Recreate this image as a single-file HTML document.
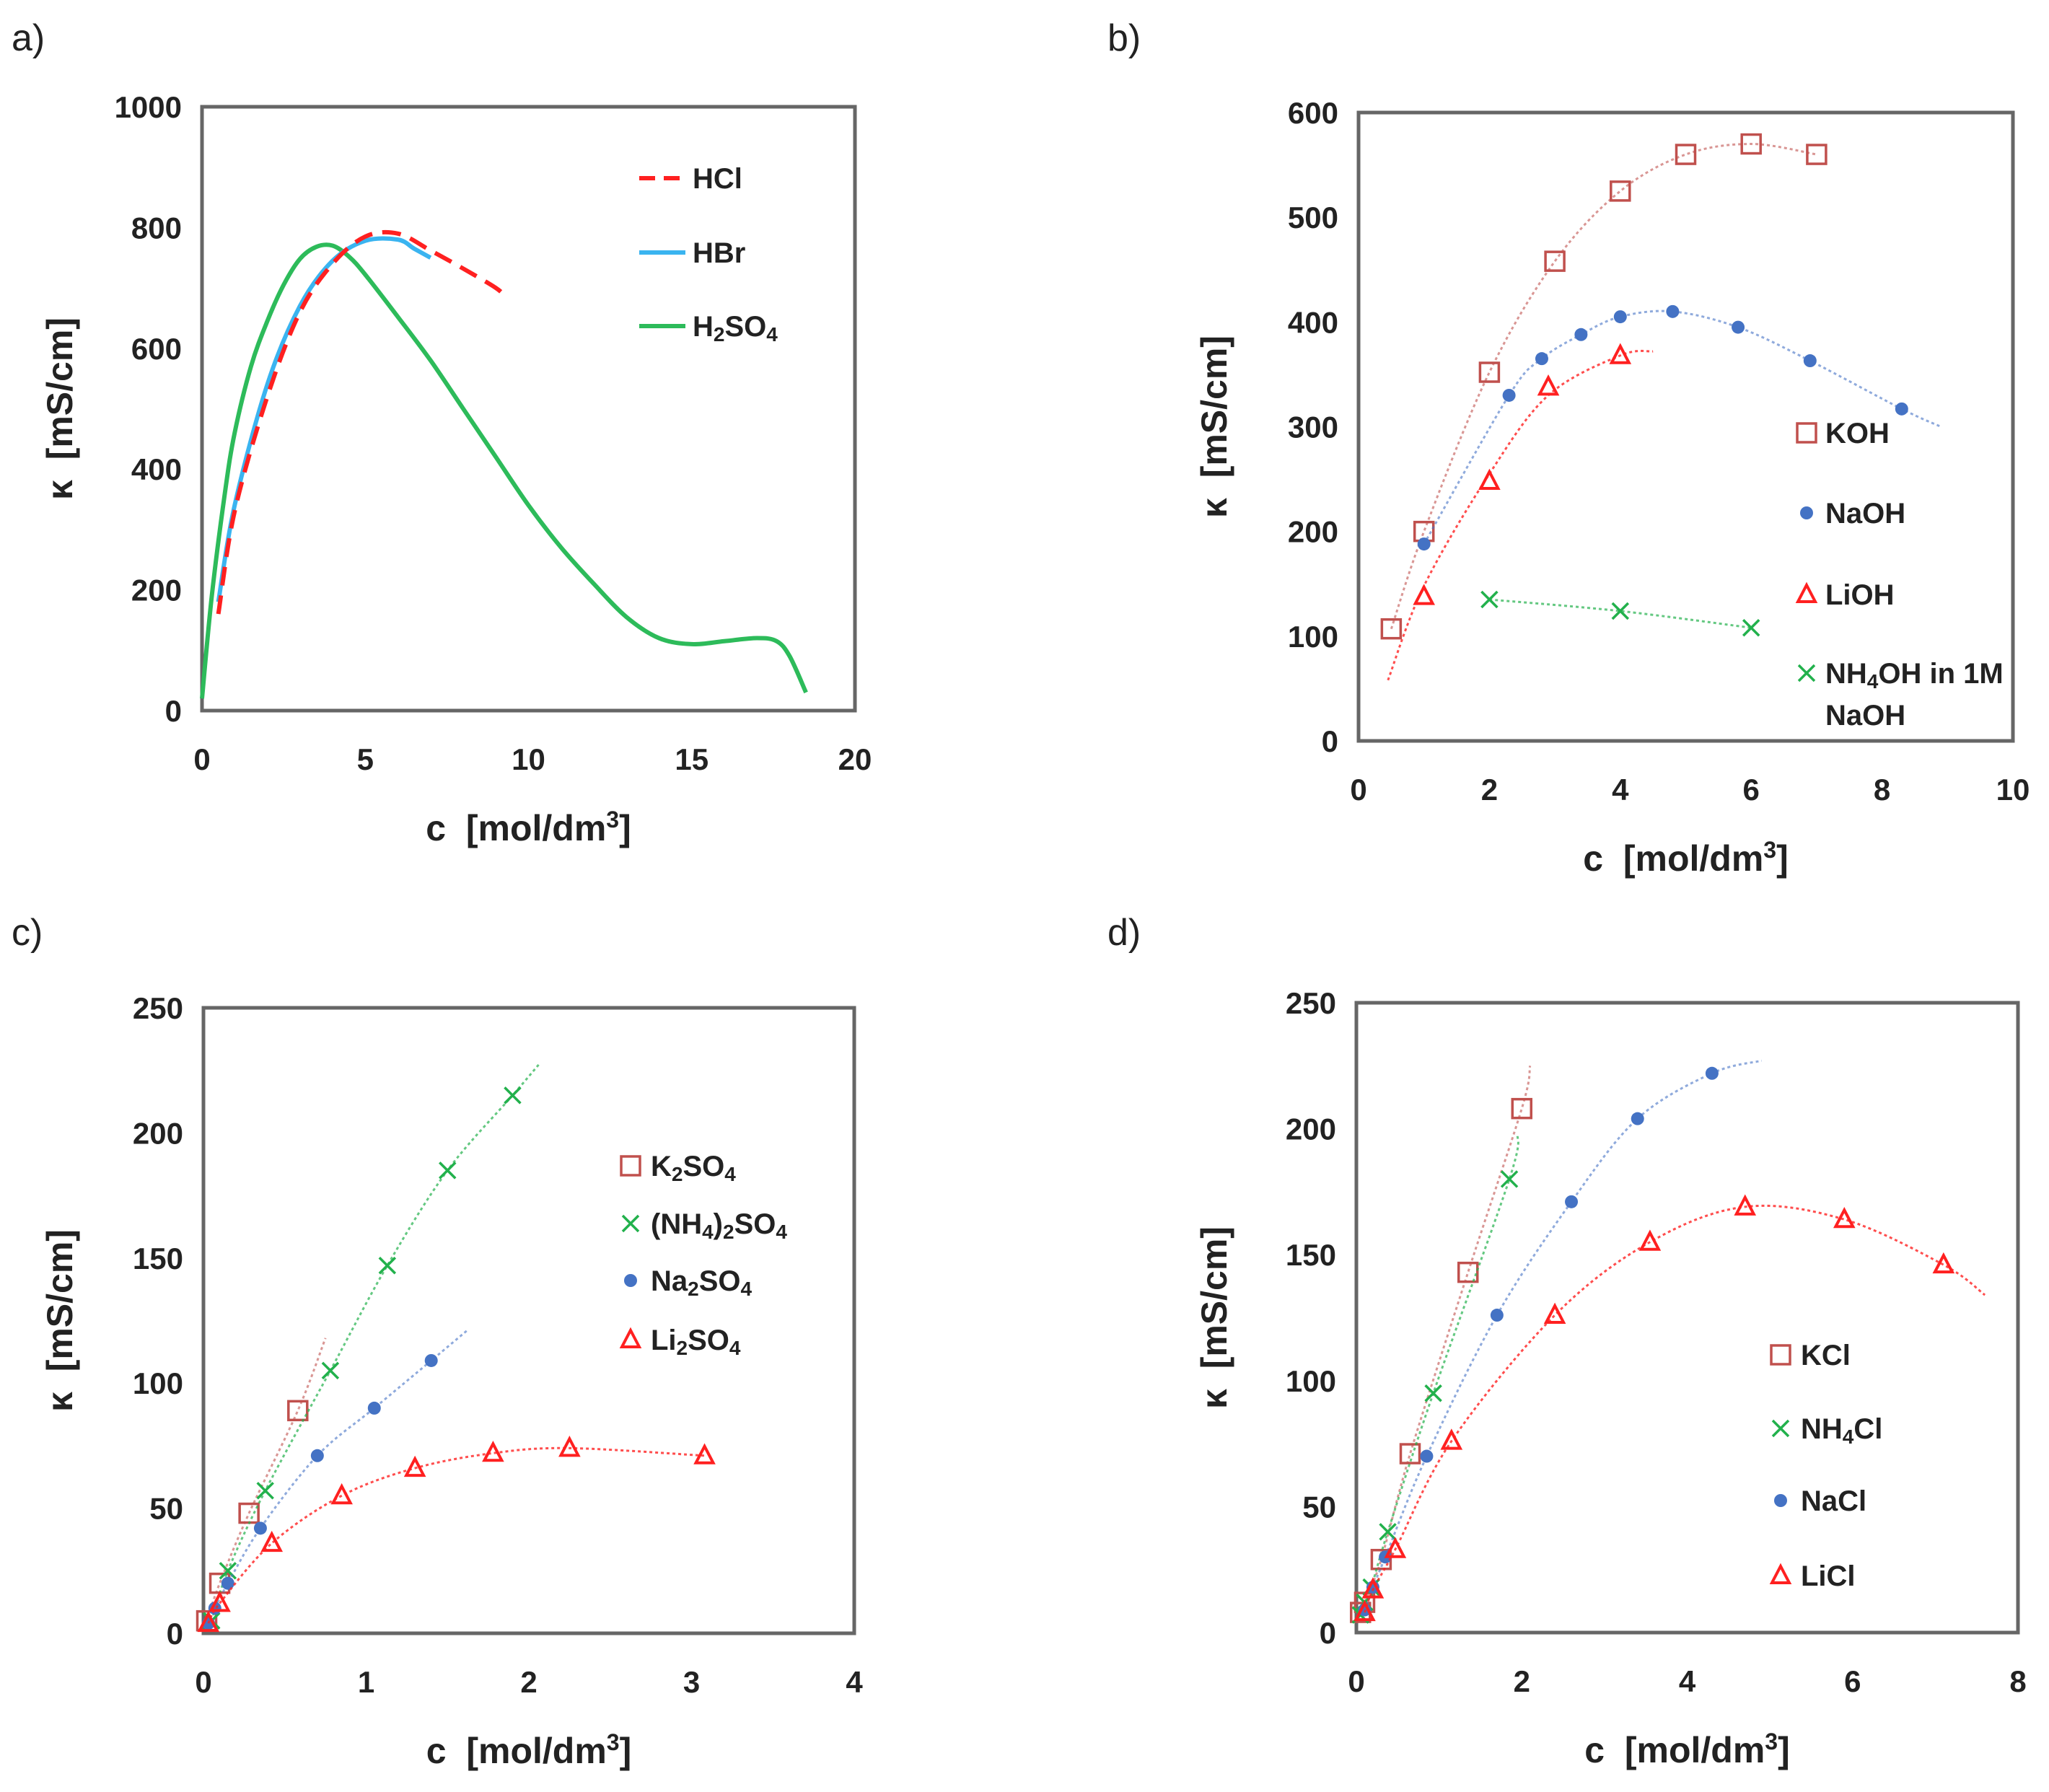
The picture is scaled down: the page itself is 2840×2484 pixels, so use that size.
<!DOCTYPE html>
<html><head><meta charset="utf-8">
<style>
html,body{margin:0;padding:0;background:#fff;}
svg{display:block;}
text{font-family:"Liberation Sans",sans-serif;}
</style></head>
<body>
<svg id="chart" width="2840" height="2484" viewBox="0 0 2840 2484" xmlns="http://www.w3.org/2000/svg"></svg>
<script>
// ---- Panel a data ----
const aHClX = [0.5,1,2,3,4,5,6,7,8,9,9.3];
const aHClY = [160,330,520,660,740,785,790,762,732,700,685];
const aHBrX = [0.5,1,2,3,4,5,6,6.5,7];
const aHBrY = [180,340,540,670,745,778,780,765,750];
const aH2SO4X = [0,0.3,0.7,1,1.5,2,2.5,3,3.5,4,4.5,5,6,7,8,9,10,11,12,13,14,15,16,17,17.6,18,18.5];
const aH2SO4Y = [20,190,360,460,570,645,705,748,768,770,752,722,652,580,500,420,340,270,210,155,120,110,115,120,115,90,30];
// ---- Panel b data ----
const bKOHX = [0.5,1,2,3,4,5,6,7];
const bKOHY = [107,200,352,458,525,560,570,560];
const bNaOHX = [1,2.3,2.8,3.4,4,4.8,5.8,6.9,8.3];
const bNaOHY = [188,330,365,388,405,410,395,363,317];
const bNaOHFitX = [1,2.3,2.8,3.4,4,4.8,5.8,6.9,8.3,8.9];
const bNaOHFitY = [188,330,365,388,405,410,395,363,317,300];
const bLiOHX = [1,2,2.9,4];
const bLiOHY = [138,248,338,368];
const bLiOHFitX = [0.45,1,2,2.9,4,4.5];
const bLiOHFitY = [58,148,255,330,368,372];
const bNH4X = [2,4,6];
const bNH4Y = [135,124,108];
// ---- Panel c data ----
const cKX = [0.02,0.1,0.28,0.58];
const cKY = [5,20,48,89];
const cKFitX = [0.02,0.1,0.28,0.58,0.75];
const cKFitY = [5,20,48,89,118];
const cNH4X = [0.05,0.15,0.38,0.78,1.13,1.5,1.9];
const cNH4Y = [5,25,57,105,147,185,215];
const cNH4FitX = [0.05,0.15,0.38,0.78,1.13,1.5,1.9,2.07];
const cNH4FitY = [5,25,57,105,147,185,215,228];
const cNaX = [0.03,0.07,0.15,0.35,0.7,1.05,1.4];
const cNaY = [4,10,20,42,71,90,109];
const cNaFitX = [0.03,0.07,0.15,0.35,0.7,1.05,1.4,1.62];
const cNaFitY = [4,10,20,42,71,90,109,121];
const cLiX = [0.03,0.1,0.42,0.85,1.3,1.78,2.25,3.08];
const cLiY = [4,12,36,55,66,72,74,71];
// ---- Panel d data ----
const dKX = [0.05,0.1,0.3,0.65,1.35,2];
const dKY = [8,12,29,71,143,208];
const dKFitX = [0.05,0.1,0.3,0.65,1.35,2,2.1];
const dKFitY = [8,12,29,71,143,208,225];
const dNH4X = [0.05,0.1,0.18,0.38,0.93,1.85];
const dNH4Y = [7,12,18,40,95,180];
const dNH4FitX = [0.05,0.1,0.18,0.38,0.93,1.85,1.95];
const dNH4FitY = [7,12,18,40,95,180,198];
const dNaX = [0.1,0.2,0.35,0.85,1.7,2.6,3.4,4.3];
const dNaY = [9,18,30,70,126,171,204,222];
const dNaFitX = [0.1,0.2,0.35,0.85,1.7,2.6,3.4,4.3,4.9];
const dNaFitY = [9,18,30,70,126,171,204,222,227];
const dLiX = [0.1,0.2,0.47,1.15,2.4,3.55,4.7,5.9,7.1];
const dLiY = [8,17,33,76,126,155,169,164,146];
const dLiFitX = [0.1,0.2,0.47,1.15,2.4,3.55,4.7,5.9,7.1,7.6];
const dLiFitY = [8,17,33,76,126,155,169,164,146,134];
// ---- ticks ----
const aXTicks = [0,5,10,15,20], aYTicks = [0,200,400,600,800,1000];
const bXTicks = [0,2,4,6,8,10], bYTicks = [0,100,200,300,400,500,600];
const cXTicks = [0,1,2,3,4], cYTicks = [0,50,100,150,200,250];
const dXTicks = [0,2,4,6,8], dYTicks = [0,50,100,150,200,250];

const NS = "http://www.w3.org/2000/svg";
const svg = document.getElementById('chart');
function mk(tag, attrs, parent){
  const e = document.createElementNS(NS, tag);
  for (const k in attrs) e.setAttribute(k, attrs[k]);
  (parent||svg).appendChild(e);
  return e;
}
const C_K = "#c0504d", C_NA = "#4472c4", C_LI = "#ff2020", C_NH = "#22b14c";

function smoothPath(pts){
  let d = "M" + pts[0][0] + "," + pts[0][1];
  for (let i=0;i<pts.length-1;i++){
    const p0 = pts[i-1]||pts[i], p1 = pts[i], p2 = pts[i+1], p3 = pts[i+2]||p2;
    const c1x = p1[0]+(p2[0]-p0[0])/6, c1y = p1[1]+(p2[1]-p0[1])/6;
    const c2x = p2[0]-(p3[0]-p1[0])/6, c2y = p2[1]-(p3[1]-p1[1])/6;
    d += " C"+c1x+","+c1y+" "+c2x+","+c2y+" "+p2[0]+","+p2[1];
  }
  return d;
}
function marker(g, type, x, y, color){
  let m;
  if (type==='sq') m = mk('rect',{x:x-13,y:y-13,width:26,height:26,fill:'none',stroke:color,'stroke-width':3.5},g);
  else if (type==='ci') m = mk('circle',{cx:x,cy:y,r:9,fill:color},g);
  else if (type==='tr') m = mk('path',{d:`M${x},${y-13} L${x+12},${y+10} L${x-12},${y+10} Z`,fill:'none',stroke:color,'stroke-width':4},g);
  else m = mk('path',{d:`M${x-11},${y-11} L${x+11},${y+11} M${x+11},${y-11} L${x-11},${y+11}`,fill:'none',stroke:color,'stroke-width':3.5},g);
  return m;
}
function panel(p){
  const g = mk('g',{});
  
  
  const sx = v => p.L + (v - p.x0)/(p.x1-p.x0)*(p.R-p.L);
  const sy = v => p.B - (v - p.y0)/(p.y1-p.y0)*(p.B-p.T);
  const lab = mk('text',{x:p.lx,y:p.ly,'font-size':52,'font-family':'"Liberation Serif",serif',fill:'#222'},g);
  lab.textContent = p.id + ")";
  
  
  p.yt.forEach(v=>{
    const t = mk('text',{x:p.L-28,y:sy(v)+15,'text-anchor':'end','font-size':42,'font-weight':'bold',fill:'#222'},g);
    t.textContent = v;
    
    
  });
  p.xt.forEach(v=>{
    const t = mk('text',{x:sx(v),y:p.B+82,'text-anchor':'middle','font-size':42,'font-weight':'bold',fill:'#222'},g);
    t.textContent = v;
    
    
  });
  const xt = mk('text',{x:(p.L+p.R)/2,y:p.B+180,'text-anchor':'middle','font-size':50,'font-weight':'bold',fill:'#222'},g);
  xt.innerHTML = 'c&#160;&#160;[mol/dm<tspan baseline-shift="18" font-size="32">3</tspan>]';
  
  
  const cy = (p.T+p.B)/2;
  const yt = mk('text',{x:p.ytx,y:cy,'text-anchor':'middle','font-size':50,'font-weight':'bold',fill:'#222',transform:`rotate(-90 ${p.ytx} ${cy})`},g);
  yt.textContent = 'κ\u00a0\u00a0[mS/cm]';
  
  
  const box = mk('rect',{x:p.L,y:p.T,width:p.R-p.L,height:p.B-p.T,fill:'none',stroke:'#666','stroke-width':5},g);
  
  
  p.series.forEach(s=>{
    if (s.fx){
      const pts = s.fx.map((x,i)=>[sx(x),sy(s.fy[i])]);
      const path = mk('path',{d:smoothPath(pts),fill:'none',stroke:s.color,'stroke-width':s.lw||3,'stroke-dasharray':s.dash||'none','stroke-linecap':'butt',opacity:s.op||0.75},g);
      
      
    }
    if (s.mx){
      s.mx.forEach((x,i)=>{
        const m = marker(g, s.m, sx(x), sy(s.my[i]), s.color);
        
        
      });
    }
  });
  p.legend.forEach(l=>{
    if (l.line){
      const ln = mk('line',{x1:l.x,y1:l.y,x2:l.x+64,y2:l.y,stroke:l.color,'stroke-width':6,'stroke-dasharray':l.dash||'none'},g);
      
      
    } else {
      const m = marker(g, l.m, l.x, l.y, l.color);
      
      
    }
    const t = mk('text',{x:l.tx,y:l.y+14,'font-size':40,'font-weight':'bold',fill:'#222'},g);
    t.innerHTML = l.label;
    
    
    if (l.label2){
      const t2 = mk('text',{x:l.tx,y:l.y+14+58,'font-size':40,'font-weight':'bold',fill:'#222'},g);
      t2.textContent = l.label2;
      
      
    }
  });
}
const sub = s => `<tspan baseline-shift="-7" font-size="28">${s}</tspan>`;

panel({id:'a',L:280,R:1185,T:148,B:985,x0:0,x1:20,y0:0,y1:1000,xt:aXTicks,yt:aYTicks,lx:16,ly:70,ytx:100,
  series:[
    {name:'h2so4',fx:aH2SO4X,fy:aH2SO4Y,color:'#2dbb5a',lw:6,op:1},
    {name:'hbr',fx:aHBrX,fy:aHBrY,color:'#3ab4f0',lw:6,op:1},
    {name:'hcl',fx:aHClX,fy:aHClY,color:'#ff2020',lw:6,dash:'26 14',op:1}
  ],
  legend:[
    {line:true,x:886,y:247,tx:960,color:'#ff2020',dash:'22 12',label:'HCl'},
    {line:true,x:886,y:350,tx:960,color:'#3ab4f0',label:'HBr'},
    {line:true,x:886,y:452,tx:960,color:'#2dbb5a',label:'H'+sub('2')+'SO'+sub('4')}
  ]});

panel({id:'b',L:1883,R:2790,T:156,B:1027,x0:0,x1:10,y0:0,y1:600,xt:bXTicks,yt:bYTicks,lx:1535,ly:70,ytx:1700,
  series:[
    {name:'koh',fx:bKOHX,fy:bKOHY,mx:bKOHX,my:bKOHY,m:'sq',color:C_K,dash:'4 4',op:0.6},
    {name:'naoh',fx:bNaOHFitX,fy:bNaOHFitY,mx:bNaOHX,my:bNaOHY,m:'ci',color:C_NA,dash:'4 4',op:0.6},
    {name:'lioh',fx:bLiOHFitX,fy:bLiOHFitY,mx:bLiOHX,my:bLiOHY,m:'tr',color:C_LI,dash:'4 4',op:0.8},
    {name:'nh4oh',fx:bNH4X,fy:bNH4Y,mx:bNH4X,my:bNH4Y,m:'x',color:C_NH,dash:'4 4',op:0.7}
  ],
  legend:[
    {m:'sq',x:2504,y:600,tx:2530,color:C_K,label:'KOH'},
    {m:'ci',x:2504,y:711,tx:2530,color:C_NA,label:'NaOH'},
    {m:'tr',x:2504,y:824,tx:2530,color:C_LI,label:'LiOH'},
    {m:'x',x:2504,y:933,tx:2530,color:C_NH,label:'NH'+sub('4')+'OH in 1M',label2:'NaOH'}
  ]});

panel({id:'c',L:282,R:1184,T:1397,B:2264,x0:0,x1:4,y0:0,y1:250,xt:cXTicks,yt:cYTicks,lx:16,ly:1310,ytx:100,
  series:[
    {name:'k2so4',fx:cKFitX,fy:cKFitY,mx:cKX,my:cKY,m:'sq',color:C_K,dash:'4 4',op:0.6},
    {name:'nh42so4',fx:cNH4FitX,fy:cNH4FitY,mx:cNH4X,my:cNH4Y,m:'x',color:C_NH,dash:'4 4',op:0.7},
    {name:'na2so4',fx:cNaFitX,fy:cNaFitY,mx:cNaX,my:cNaY,m:'ci',color:C_NA,dash:'4 4',op:0.6},
    {name:'li2so4',fx:cLiX,fy:cLiY,mx:cLiX,my:cLiY,m:'tr',color:C_LI,dash:'4 4',op:0.8}
  ],
  legend:[
    {m:'sq',x:874,y:1616,tx:902,color:C_K,label:'K'+sub('2')+'SO'+sub('4')},
    {m:'x',x:874,y:1696,tx:902,color:C_NH,label:'(NH'+sub('4')+')'+sub('2')+'SO'+sub('4')},
    {m:'ci',x:874,y:1775,tx:902,color:C_NA,label:'Na'+sub('2')+'SO'+sub('4')},
    {m:'tr',x:874,y:1857,tx:902,color:C_LI,label:'Li'+sub('2')+'SO'+sub('4')}
  ]});

panel({id:'d',L:1880,R:2797,T:1390,B:2263,x0:0,x1:8,y0:0,y1:250,xt:dXTicks,yt:dYTicks,lx:1535,ly:1310,ytx:1700,
  series:[
    {name:'kcl',fx:dKFitX,fy:dKFitY,mx:dKX,my:dKY,m:'sq',color:C_K,dash:'4 4',op:0.6},
    {name:'nh4cl',fx:dNH4FitX,fy:dNH4FitY,mx:dNH4X,my:dNH4Y,m:'x',color:C_NH,dash:'4 4',op:0.7},
    {name:'nacl',fx:dNaFitX,fy:dNaFitY,mx:dNaX,my:dNaY,m:'ci',color:C_NA,dash:'4 4',op:0.6},
    {name:'licl',fx:dLiFitX,fy:dLiFitY,mx:dLiX,my:dLiY,m:'tr',color:C_LI,dash:'4 4',op:0.8}
  ],
  legend:[
    {m:'sq',x:2468,y:1878,tx:2496,color:C_K,label:'KCl'},
    {m:'x',x:2468,y:1980,tx:2496,color:C_NH,label:'NH'+sub('4')+'Cl'},
    {m:'ci',x:2468,y:2080,tx:2496,color:C_NA,label:'NaCl'},
    {m:'tr',x:2468,y:2184,tx:2496,color:C_LI,label:'LiCl'}
  ]});
</script>
</body></html>
